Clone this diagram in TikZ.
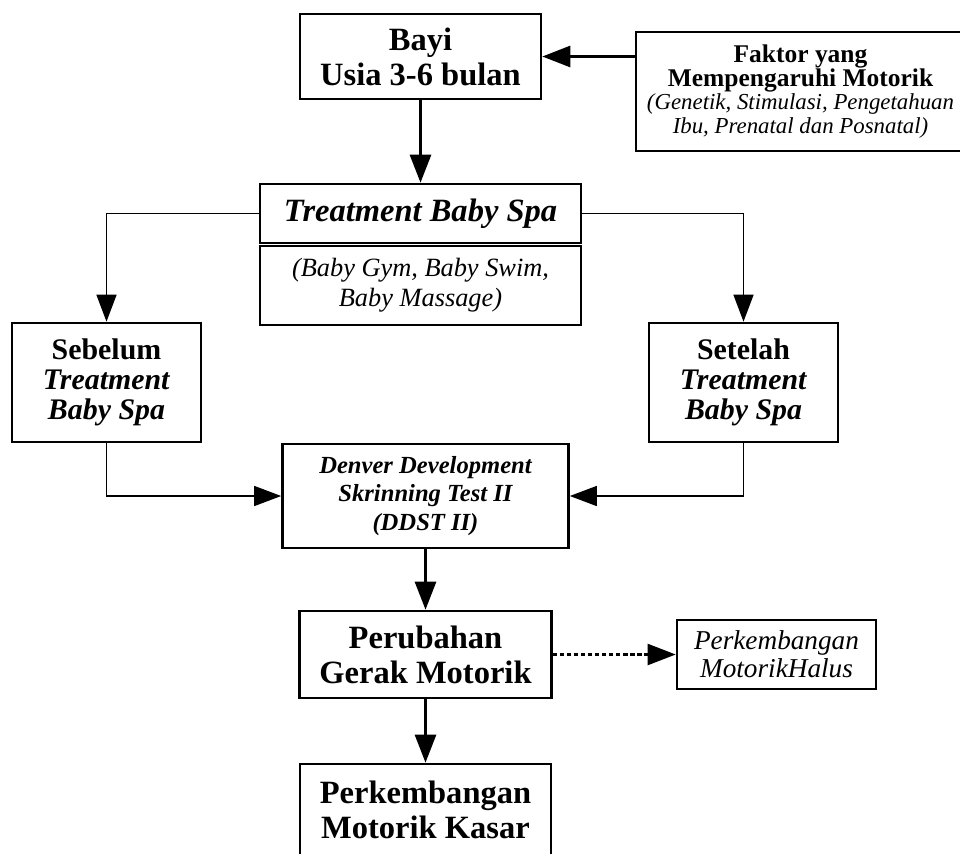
\documentclass[tikz,border=0pt]{standalone}
\usepackage{fontspec}
\setmainfont{Liberation Serif}
\usetikzlibrary{arrows.meta}

\begin{document}
\begin{tikzpicture}[box/.style={draw, rectangle, line width=1.5pt, align=center, inner sep=2pt},
        big/.style={font=\fontsize{18.5}{20}\selectfont\bfseries},
        arr/.style={-{Triangle[length=0.56cm,width=0.42cm]}, line width=1.6pt},
        tarr/.style={-{Triangle[length=0.54cm,width=0.4cm]}, line width=0.8pt}]
        \useasboundingbox (0,0) rectangle (19.2,-17.06);
        \clip (0,0) rectangle (19.2,-17.06);
        \node (bayi) [box, big, minimum width=4.82cm, minimum height=1.7cm] at (8.41,-1.13) {Bayi\\Usia 3-6 bulan};
        \node (faktor) [box, minimum width=6.58cm, minimum height=2.38cm, font=\fontsize{13}{13.5}\selectfont] at (16.01,-1.83) {{\fontsize{14.5}{14}\selectfont\textbf{Faktor yang}}\\{\fontsize{14.5}{14}\selectfont\textbf{Mempengaruhi Motorik}}\\\textit{(Genetik, Stimulasi, Pengetahuan}\\\textit{Ibu, Prenatal dan Posnatal)}};
        \node (treat) [box, minimum width=6.42cm, minimum height=1.18cm, font=\fontsize{18.5}{20}\selectfont\bfseries\itshape] at (8.41,-4.27) {Treatment Baby Spa};
        \node (treatket) [box, minimum width=6.42cm, minimum height=1.58cm, font=\fontsize{15}{17}\selectfont\itshape] at (8.41,-5.71) {(Baby Gym, Baby Swim,\\Baby Massage)};
        \node (sebelum) [box, minimum width=3.78cm, minimum height=2.38cm, font=\fontsize{17}{17}\selectfont\bfseries] at (2.13,-7.65) {Sebelum\\\textit{Treatment}\\\textit{Baby Spa}};
        \node (setelah) [box, minimum width=3.78cm, minimum height=2.38cm, font=\fontsize{17}{17}\selectfont\bfseries] at (14.87,-7.65) {Setelah\\\textit{Treatment}\\\textit{Baby Spa}};
        \node (denver) [box, minimum width=5.72cm, minimum height=2.08cm, font=\fontsize{14}{16}\selectfont\bfseries\itshape] at (8.51,-9.92) {Denver Development\\Skrinning Test II\\(DDST II)};
        \node (perub) [box, big, minimum width=5.04cm, minimum height=1.74cm] at (8.51,-13.09) {Perubahan\\Gerak Motorik};
        \node (halus) [box, minimum width=3.98cm, minimum height=1.38cm, font=\fontsize{15.5}{16}\selectfont\itshape] at (15.53,-13.09) {Perkembangan\\MotorikHalus};
        \node (kasar) [box, big, minimum width=5.02cm, minimum height=1.84cm] at (8.51,-16.2) {Perkembangan\\Motorik Kasar};

        \draw[arr] (bayi) -- (treat);
        \draw[arr] (faktor.west |- bayi) -- (bayi);
        \draw[tarr] (treat.west) -| (sebelum);
        \draw[tarr] (treat.east) -| (setelah);
        \draw[tarr] (sebelum) |- (denver);
        \draw[tarr] (setelah) |- (denver);
        \draw[arr] (denver) -- (perub);
        \draw[arr] (perub) -- (kasar);
        \draw[arr, line width=1.3pt, dash pattern=on 2.5pt off 1.5pt] (perub) -- (halus);
    \end{tikzpicture}
\end{document}
